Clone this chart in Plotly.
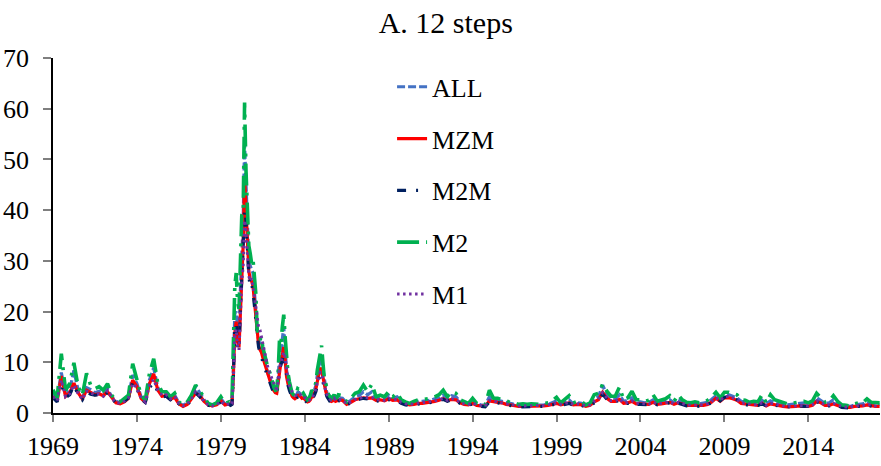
import pandas as pd
import plotly.graph_objects as go

# Observation dates: quarterly to mid-1979, monthly through 1985, quarterly afterwards
dates = (
    list(pd.date_range("1969-01-01", "1979-07-01", freq="QS"))
    + list(pd.date_range("1979-08-01", "1985-12-01", freq="MS"))
    + list(pd.date_range("1986-01-01", "2018-04-01", freq="QS"))
)

series_names = ["ALL", "MZM", "M2M", "M2", "M1"]
tick_years = list(range(1969, 2019, 5))
y_ticks = [0, 10, 20, 30, 40, 50, 60, 70]

all_vals = [
    # 1969-1979 (quarterly)
    3.8, 2.6, 8.0, 3.6, 4.6, 8.4, 4.5, 3.0, 5.0, 4.6, 4.0, 4.3,
    3.8, 4.8, 3.2, 2.3, 2.0, 2.5, 3.2, 7.5, 5.8, 3.2, 2.3, 6.5,
    8.9, 5.0, 3.6, 3.8, 3.0, 3.5, 2.0, 1.5, 2.0, 3.2, 5.3, 3.9,
    2.6, 1.8, 1.5, 1.8, 2.8, 1.8, 2.0,
    # 1979-08 to 1985-12 (monthly)
    1.8, 2.0, 9.0, 19.7, 20.0,
    16.0, 14.0, 24.0, 33.0, 38.0, 53.0, 45.0, 36.0, 30.0, 29.0, 28.0, 27.6,
    24.0, 20.0, 16.0, 14.5, 13.5, 13.0, 11.8, 10.5, 9.5, 8.8, 7.5, 7.0,
    6.2, 5.2, 4.6, 4.2, 4.2, 7.0, 11.0, 12.0, 14.5, 17.0, 12.5, 8.5,
    6.8, 5.5, 4.5, 3.6, 3.3, 3.1, 3.4, 4.0, 4.0, 3.7, 3.3, 3.4,
    3.0, 2.7, 2.4, 2.6, 3.0, 3.8, 3.7, 4.6, 5.5, 7.5, 9.0, 10.9,
    10.5, 8.5, 6.2, 5.0, 3.9, 3.2, 2.9, 2.6, 2.8, 3.1, 2.6, 2.7,
    # 1986-2018 (quarterly)
    3.0, 2.9, 2.0, 2.5, 3.2, 3.5, 4.2, 3.6, 4.2, 2.9, 3.0, 2.8,
    3.5, 2.9, 3.2, 2.3, 2.0, 1.8, 2.0, 2.3, 2.3, 2.4, 2.5, 2.8,
    3.0, 3.5, 2.8, 3.4, 3.2, 2.3, 2.0, 1.8, 2.4, 1.8, 1.6, 1.5,
    3.2, 2.6, 2.5, 2.3, 2.0, 1.9, 1.7, 1.5, 1.5, 1.5, 1.6, 1.5,
    1.5, 1.6, 1.7, 2.0, 2.4, 1.8, 2.2, 2.6, 1.8, 2.0, 1.9, 1.5,
    1.8, 2.8, 3.2, 5.5, 3.6, 2.8, 2.8, 3.6, 2.3, 2.5, 3.0, 2.2,
    2.2, 2.0, 2.1, 2.6, 2.0, 2.1, 2.3, 2.6, 2.0, 2.6, 2.2, 1.9,
    1.8, 1.9, 1.8, 1.9, 2.1, 2.7, 3.4, 2.7, 3.5, 3.6, 3.3, 3.0,
    2.3, 2.2, 1.9, 2.0, 1.9, 2.5, 1.8, 2.4, 2.1, 1.9, 1.7, 1.6,
    1.7, 1.8, 1.9, 2.0, 1.8, 2.0, 3.0, 2.5, 1.9, 2.0, 2.6, 2.0,
    1.5, 1.4, 1.3, 1.6, 1.7, 1.8, 2.2, 1.8, 1.7, 1.7,
]

mzm_vals = [
    3.3, 2.3, 7.3, 3.3, 4.0, 5.9, 4.0, 2.8, 4.5, 4.0, 3.6, 3.8,
    3.4, 4.2, 3.0, 2.0, 1.8, 2.2, 2.9, 6.5, 5.2, 2.9, 2.1, 5.8,
    7.7, 4.5, 3.3, 3.4, 2.7, 3.1, 1.8, 1.3, 1.7, 2.7, 3.9, 3.4,
    2.3, 1.6, 1.4, 1.6, 2.4, 1.6, 1.8,
    1.6, 1.8, 7.5, 15.8, 18.0,
    14.0, 13.0, 21.0, 28.0, 33.0, 46.5, 40.0, 33.0, 28.0, 26.4, 26.0, 25.0,
    22.0, 19.0, 15.5, 13.5, 12.5, 12.0, 11.0, 10.0, 9.0, 8.2, 7.0, 6.5,
    5.6, 4.8, 4.3, 4.0, 3.9, 6.0, 9.0, 10.0, 11.5, 13.0, 10.5, 7.2,
    5.8, 4.8, 4.0, 3.3, 3.0, 2.8, 3.0, 3.5, 3.5, 3.2, 2.9, 3.0,
    2.7, 2.4, 2.2, 2.3, 2.6, 3.2, 3.2, 4.0, 4.8, 6.2, 7.5, 8.9,
    8.5, 7.0, 5.2, 4.3, 3.4, 2.8, 2.5, 2.3, 2.4, 2.7, 2.3, 2.4,
    2.6, 2.5, 1.7, 2.1, 2.6, 2.8, 3.0, 2.9, 3.0, 2.5, 2.6, 2.4,
    2.8, 2.5, 2.6, 2.0, 1.8, 1.6, 1.7, 1.9, 1.9, 2.0, 2.1, 2.3,
    2.5, 2.8, 2.4, 2.7, 2.6, 2.0, 1.7, 1.6, 1.9, 1.5, 1.4, 1.3,
    2.4, 2.2, 2.1, 2.0, 1.7, 1.6, 1.4, 1.3, 1.3, 1.3, 1.4, 1.3,
    1.3, 1.4, 1.5, 1.7, 1.9, 1.6, 1.8, 2.0, 1.6, 1.7, 1.6, 1.3,
    1.5, 2.2, 2.6, 4.1, 2.9, 2.3, 2.3, 2.7, 1.9, 2.0, 2.3, 1.8,
    1.8, 1.7, 1.7, 2.1, 1.7, 1.8, 1.9, 2.1, 1.7, 2.0, 1.8, 1.5,
    1.5, 1.5, 1.4, 1.5, 1.7, 2.2, 2.9, 2.3, 3.0, 3.0, 2.8, 2.5,
    1.9, 1.8, 1.6, 1.6, 1.5, 1.9, 1.4, 1.8, 1.6, 1.4, 1.3, 1.2,
    1.2, 1.3, 1.4, 1.4, 1.3, 1.5, 2.3, 2.0, 1.5, 1.5, 1.8, 1.5,
    1.2, 1.1, 1.1, 1.3, 1.3, 1.4, 1.6, 1.4, 1.3, 1.3,
]

m2m_vals = [
    3.0, 2.2, 6.0, 3.0, 3.6, 5.5, 3.6, 2.6, 4.2, 3.7, 3.5, 3.6,
    3.2, 4.0, 2.9, 2.0, 1.8, 2.3, 3.0, 6.0, 4.8, 2.8, 2.1, 5.0,
    6.0, 4.2, 3.2, 3.3, 2.6, 3.0, 1.8, 1.3, 1.6, 2.6, 4.0, 3.2,
    2.1, 1.5, 1.3, 1.5, 2.2, 1.5, 1.7,
    1.5, 1.7, 7.0, 17.0, 17.5,
    13.0, 12.4, 20.0, 27.0, 30.0, 40.0, 38.0, 32.0, 27.0, 25.0, 25.5, 24.0,
    21.0, 18.0, 15.0, 13.0, 12.0, 11.5, 10.0, 9.2, 8.5, 7.6, 6.5, 6.0,
    5.2, 4.5, 4.0, 3.8, 3.7, 5.5, 8.5, 9.5, 10.5, 11.5, 9.5, 6.8,
    5.5, 4.5, 3.8, 3.1, 2.8, 2.6, 2.8, 3.2, 3.3, 3.0, 2.7, 2.8,
    2.5, 2.2, 2.0, 2.1, 2.4, 3.0, 3.0, 3.6, 4.3, 5.5, 6.5, 7.5,
    7.2, 6.0, 4.8, 4.0, 3.2, 2.6, 2.3, 2.1, 2.2, 2.5, 2.1, 2.2,
    2.4, 2.4, 1.6, 2.0, 2.5, 2.7, 2.9, 2.8, 2.9, 2.3, 2.4, 2.2,
    2.6, 2.3, 2.4, 1.9, 1.6, 1.5, 1.6, 1.8, 1.8, 1.9, 2.0, 2.2,
    2.4, 2.7, 2.3, 2.6, 2.5, 1.9, 1.6, 1.5, 1.8, 1.4, 1.3, 1.2,
    2.2, 2.0, 2.0, 1.8, 1.6, 1.5, 1.3, 1.2, 1.2, 1.2, 1.3, 1.2,
    1.2, 1.3, 1.4, 1.6, 1.8, 1.5, 1.7, 1.9, 1.5, 1.6, 1.5, 1.1,
    1.4, 2.0, 2.4, 3.7, 2.7, 2.2, 2.2, 2.5, 1.8, 1.9, 2.2, 1.7,
    1.7, 1.6, 1.6, 2.0, 1.6, 1.7, 1.8, 2.0, 1.6, 1.9, 1.7, 1.4,
    1.4, 1.5, 1.3, 1.4, 1.6, 2.1, 2.8, 2.4, 3.1, 3.2, 2.9, 2.6,
    1.8, 1.7, 1.5, 1.6, 1.5, 1.8, 1.4, 1.7, 1.5, 1.4, 1.3, 1.2,
    1.2, 1.3, 1.4, 1.3, 1.3, 1.4, 2.2, 1.9, 1.4, 1.4, 1.7, 1.5,
    1.1, 1.1, 1.0, 1.3, 1.3, 1.3, 1.5, 1.3, 1.2, 1.2,
]

m2_vals = [
    4.6, 2.9, 11.7, 4.5, 5.8, 9.9, 5.2, 3.5, 7.8, 5.5, 4.8, 5.2,
    4.5, 5.8, 3.5, 2.5, 2.2, 2.8, 3.5, 9.7, 6.5, 3.5, 2.5, 7.8,
    10.7, 5.8, 4.2, 4.2, 3.2, 3.9, 2.2, 1.6, 2.2, 3.5, 5.5, 4.2,
    3.0, 1.9, 1.6, 2.0, 3.2, 1.9, 2.2,
    2.0, 2.3, 12.0, 25.0, 27.6,
    22.0, 20.5, 30.0, 39.0, 39.5, 61.2, 48.0, 40.0, 33.0, 31.5, 29.5, 30.3,
    26.0, 23.5, 16.4, 15.8, 14.4, 15.0, 13.0, 11.8, 10.5, 9.8, 8.5, 8.0,
    7.2, 6.0, 5.0, 4.5, 4.6, 8.0, 14.5, 13.7, 17.0, 19.4, 14.9, 10.0,
    7.9, 6.2, 5.0, 3.9, 3.6, 3.3, 3.9, 4.8, 4.6, 4.2, 3.6, 3.9,
    3.3, 2.9, 2.6, 2.9, 3.5, 4.5, 4.2, 5.0, 6.0, 8.5, 10.0, 12.0,
    13.3, 9.8, 7.0, 5.9, 4.5, 3.6, 3.3, 2.9, 3.2, 3.6, 2.9, 3.0,
    3.6, 3.4, 2.2, 2.9, 3.9, 4.2, 5.5, 4.2, 5.7, 3.2, 3.5, 3.2,
    4.2, 3.2, 3.9, 2.6, 2.2, 1.9, 2.3, 2.6, 2.6, 2.7, 2.9, 3.2,
    3.6, 4.5, 3.2, 4.2, 3.9, 2.6, 2.2, 1.9, 2.9, 1.9, 1.7, 1.6,
    4.5, 2.9, 2.9, 2.6, 2.3, 2.1, 1.9, 1.7, 1.8, 1.7, 1.8, 1.7,
    1.7, 1.9, 2.0, 2.4, 3.1, 2.0, 2.6, 3.4, 2.0, 2.3, 2.2, 1.6,
    2.0, 3.6, 3.9, 5.7, 4.3, 3.3, 3.3, 5.1, 2.6, 3.0, 4.3, 2.6,
    2.6, 2.3, 2.5, 3.6, 2.3, 2.5, 2.8, 3.4, 2.3, 3.6, 2.6, 2.1,
    2.0, 2.2, 2.0, 2.1, 2.5, 3.2, 4.1, 3.0, 4.1, 4.1, 3.9, 3.6,
    2.6, 2.5, 2.1, 2.3, 2.2, 3.6, 2.0, 3.6, 2.6, 2.3, 2.0, 1.8,
    1.9, 2.1, 2.2, 2.3, 2.0, 2.4, 3.9, 3.0, 2.1, 2.4, 3.4, 2.3,
    1.6, 1.5, 1.4, 1.8, 2.0, 2.0, 2.8, 2.1, 2.0, 2.0,
]

m1_vals = [
    3.2, 2.4, 6.5, 3.2, 3.8, 5.5, 3.8, 2.7, 4.3, 3.9, 3.6, 3.8,
    3.3, 4.4, 3.0, 2.1, 1.9, 2.3, 3.0, 5.8, 5.0, 3.0, 2.2, 5.5,
    6.6, 4.5, 3.5, 3.6, 2.8, 3.3, 1.9, 1.4, 1.8, 2.8, 4.2, 3.4,
    2.3, 1.6, 1.4, 1.6, 2.3, 1.6, 1.8,
    1.6, 1.8, 6.5, 15.0, 16.5,
    13.0, 12.4, 20.0, 26.0, 29.0, 38.0, 36.0, 31.0, 27.0, 26.0, 26.5, 25.0,
    23.0, 21.7, 19.0, 17.0, 16.4, 15.0, 13.8, 12.8, 11.0, 10.0, 8.5, 7.9,
    7.2, 6.2, 5.6, 5.0, 4.8, 6.0, 9.0, 10.0, 11.5, 12.0, 11.0, 8.0,
    6.5, 5.5, 4.8, 4.2, 3.9, 3.5, 3.5, 3.8, 3.9, 3.6, 3.3, 3.4,
    3.0, 2.7, 2.5, 2.5, 2.8, 3.4, 3.4, 4.0, 4.8, 6.0, 7.0, 8.0,
    7.8, 6.6, 5.2, 4.4, 3.6, 3.0, 2.7, 2.5, 2.6, 2.9, 2.5, 2.6,
    2.7, 2.6, 1.8, 2.2, 2.7, 2.9, 3.1, 3.0, 3.1, 2.6, 2.7, 2.5,
    2.9, 2.6, 2.7, 2.1, 1.8, 1.7, 1.8, 2.0, 2.0, 2.1, 2.2, 2.4,
    2.6, 2.9, 2.5, 2.8, 2.7, 2.1, 1.8, 1.7, 2.0, 1.6, 1.5, 1.4,
    2.5, 2.3, 2.2, 2.0, 1.8, 1.7, 1.5, 1.4, 1.4, 1.4, 1.5, 1.4,
    1.4, 1.5, 1.6, 1.8, 2.0, 1.7, 1.9, 2.1, 1.7, 1.8, 1.7, 1.4,
    1.6, 2.3, 2.7, 4.0, 3.0, 2.4, 2.4, 2.8, 2.0, 2.1, 2.4, 1.9,
    1.9, 1.8, 1.8, 2.2, 1.8, 1.9, 2.0, 2.2, 1.8, 2.1, 1.9, 1.6,
    1.6, 1.6, 1.5, 1.6, 1.8, 2.3, 3.0, 2.5, 3.2, 3.3, 3.0, 2.7,
    2.0, 1.9, 1.7, 1.7, 1.6, 2.0, 1.5, 1.9, 1.7, 1.5, 1.4, 1.3,
    1.3, 1.4, 1.5, 1.5, 1.4, 1.6, 2.4, 2.1, 1.6, 1.6, 1.9, 1.6,
    1.3, 1.2, 1.2, 1.4, 1.4, 1.5, 1.7, 1.5, 1.4, 1.4,
]

values = [all_vals, mzm_vals, m2m_vals, m2_vals, m1_vals]
for v in values:
    assert len(v) == len(dates), (len(v), len(dates))

styles = [
    dict(color="#4472C4", width=3.2, dash="8px,3px"),
    dict(color="#FF0000", width=3.2, dash="solid"),
    dict(color="#002060", width=3.2, dash="9px,10px,2px,10px,2px,10px"),
    dict(color="#00B050", width=3.6, dash="22px,7px,3px,7px"),
    dict(color="#7030A0", width=3.0, dash="2.5px,3.5px"),
]

FONT = "Liberation Serif, Times New Roman, serif"

fig = go.Figure()
for name, vals, st in zip(series_names, values, styles):
    fig.add_trace(go.Scatter(
        x=dates, y=vals, name=name, mode="lines",
        line=st, legendgroup=name,
    ))

fig.update_layout(
    width=881, height=466,
    margin=dict(l=53, r=1, t=58, b=53),
    paper_bgcolor="white", plot_bgcolor="white",
    font=dict(family=FONT, size=26, color="black"),
    title=dict(text="A. 12 steps", x=0.506, xref="container", xanchor="center",
               y=1 - 22 / 466, yref="container", yanchor="middle",
               font=dict(family=FONT, size=30, color="black")),
    showlegend=True,
    legend=dict(x=0.41, y=0.985, xanchor="left", yanchor="top",
                bgcolor="rgba(0,0,0,0)", tracegroupgap=15,
                font=dict(family=FONT, size=26, color="black")),
    xaxis=dict(
        type="date",
        range=["1969-01-01", "2018-04-10"],
        tickvals=[f"{y}-01-01" for y in tick_years],
        ticktext=[str(y) for y in tick_years],
        showgrid=False, zeroline=False,
        showline=True, linecolor="black", linewidth=1.5,
        ticks="outside", ticklen=7, tickcolor="#7f7f7f", tickwidth=1.5,
        ticklabelstandoff=2,
        tickfont=dict(family=FONT, size=26, color="black"),
    ),
    yaxis=dict(
        range=[0, 70],
        tickvals=y_ticks,
        showgrid=False, zeroline=False,
        showline=True, linecolor="black", linewidth=1.5,
        ticks="outside", ticklen=8, tickcolor="#7f7f7f", tickwidth=1.5,
        ticklabelstandoff=9,
        tickfont=dict(family=FONT, size=26, color="black"),
    ),
)

fig.write_html("out.html")
